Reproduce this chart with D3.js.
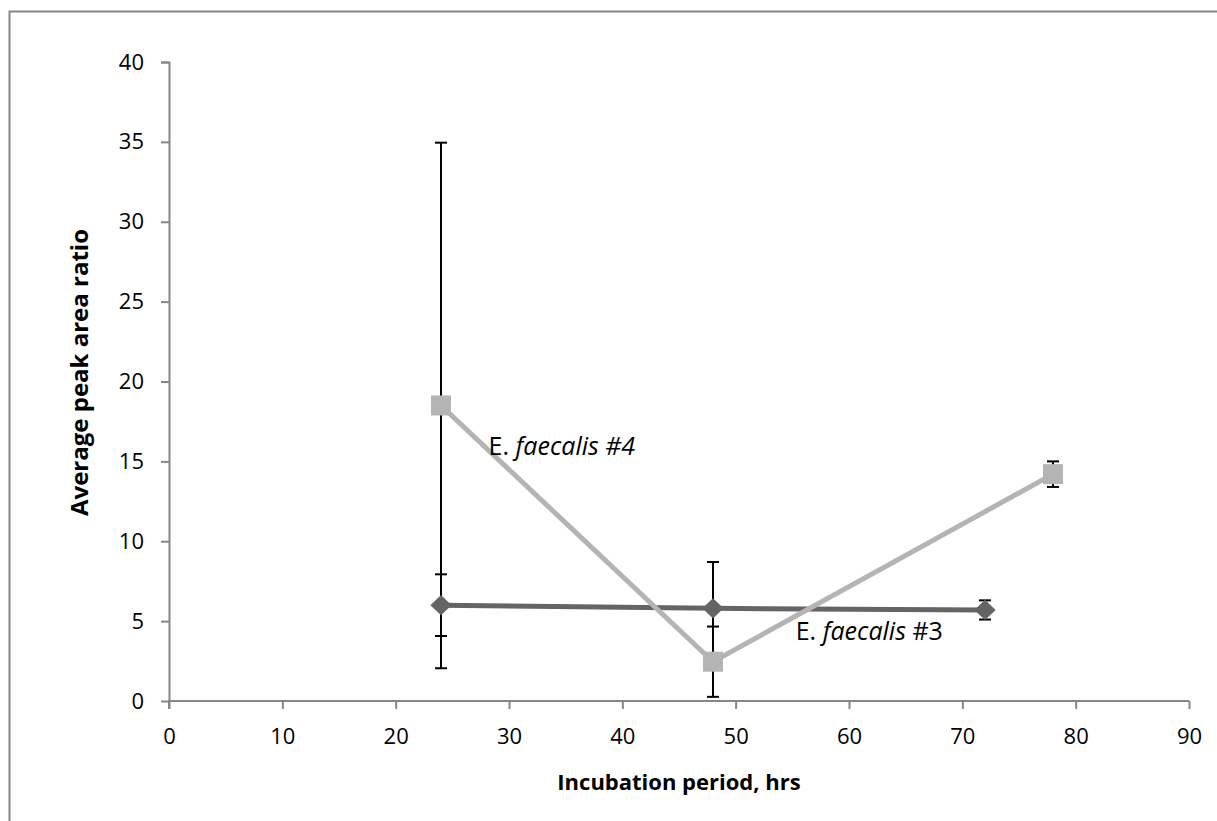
<!DOCTYPE html>
<html>
<head>
<meta charset="utf-8">
<script src="https://cdn.jsdelivr.net/npm/d3@7"></script>
<style>
  body { margin: 0; background: #fff; }
  text { font-family: "Open Sans", "DejaVu Sans", sans-serif; fill: #000; }
</style>
</head>
<body>
<div id="chart"></div>
<script>
// Data
const hours3 = [24, 48, 72];
const ratio3 = [6.0, 5.8, 5.7];
const err3 = [1.93, 2.9, 0.6];

const hours4 = [24, 48, 78];
const ratio4 = [18.5, 2.46, 14.2];
const err4 = [16.45, 2.2, 0.8];

const xTicks = [0, 10, 20, 30, 40, 50, 60, 70, 80, 90];
const yTicks = [0, 5, 10, 15, 20, 25, 30, 35, 40];

const W = 1217, H = 821;
const margin = { top: 62, right: 28, bottom: 120, left: 169 };
const width = W - margin.left - margin.right;
const height = H - margin.top - margin.bottom;  // 0..40 maps to 701..62

const svg = d3.select("#chart").append("svg")
    .attr("width", W)
    .attr("height", H);

// outer chart border (right / bottom run off the canvas)
svg.append("rect")
    .attr("x", 9.5).attr("y", 11.5)
    .attr("width", W).attr("height", H)
    .attr("fill", "none")
    .attr("stroke", "#868686")
    .attr("stroke-width", 2);

const g = svg.append("g")
    .attr("transform", "translate(" + margin.left + "," + margin.top + ")");

const x = d3.scaleLinear().domain([0, 90]).range([0, width]);
const y = d3.scaleLinear().domain([0, 40]).range([height, 0]);

// axes
const xAxis = d3.axisBottom(x).tickValues(xTicks).tickSize(8).tickPadding(19).tickFormat(d3.format("d"));
const yAxis = d3.axisLeft(y).tickValues(yTicks).tickSize(8).tickPadding(17).tickFormat(d3.format("d"));

const gx = g.append("g")
    .attr("transform", "translate(0," + height + ")")
    .call(xAxis);
const gy = g.append("g").call(yAxis);

[gx, gy].forEach(function (a) {
    a.select(".domain").attr("stroke", "#868686").attr("stroke-width", 2);
    a.selectAll(".tick line").attr("stroke", "#868686").attr("stroke-width", 2);
    a.selectAll(".tick text").style("font-size", "22px").attr("fill", "#000");
});
gy.select(".domain").attr("d", "M-8,0.5H0.5V" + height);
gx.select(".domain").attr("d", "M0,8V0H" + width);

// axis titles
g.append("text")
    .attr("x", x(45))
    .attr("y", height + 89)
    .attr("text-anchor", "middle")
    .style("font-size", "22px")
    .style("font-weight", "bold")
    .text("Incubation period, hrs");

g.append("text")
    .attr("transform", "translate(-81," + (y(20) - 9) + ") rotate(-90)")
    .attr("text-anchor", "middle")
    .style("font-size", "24px")
    .style("font-weight", "bold")
    .text("Average peak area ratio");

const line = d3.line()
    .x(function (d) { return x(d[0]); })
    .y(function (d) { return y(d[1]); });

const s3 = hours3.map(function (h, i) { return [h, ratio3[i], err3[i]]; });
const s4 = hours4.map(function (h, i) { return [h, ratio4[i], err4[i]]; });

function drawErrors(data) {
    const eb = g.append("g").attr("stroke", "#000").attr("stroke-width", 2);
    data.forEach(function (d) {
        const cx = x(d[0]);
        const hi = y(d[1] + d[2]);
        const lo = y(d[1] - d[2]);
        eb.append("line").attr("x1", cx).attr("x2", cx).attr("y1", hi).attr("y2", lo);
        eb.append("line").attr("x1", cx - 6).attr("x2", cx + 6).attr("y1", hi).attr("y2", hi);
        eb.append("line").attr("x1", cx - 6).attr("x2", cx + 6).attr("y1", lo).attr("y2", lo);
    });
}

// error bars first, lines on top
drawErrors(s3);
drawErrors(s4);

// series #3 : dark grey, diamonds
g.append("path")
    .datum(s3)
    .attr("d", line)
    .attr("fill", "none")
    .attr("stroke", "#646464")
    .attr("stroke-width", 5);

g.selectAll(".dia")
    .data(s3)
    .enter().append("path")
    .attr("class", "dia")
    .attr("d", d3.symbol().type(d3.symbolDiamond2).size(260))
    .attr("transform", function (d) { return "translate(" + x(d[0]) + "," + y(d[1]) + ") scale(1.05,1)"; })
    .attr("fill", "#646464");

// series #4 : light grey, squares
g.append("path")
    .datum(s4)
    .attr("d", line)
    .attr("fill", "none")
    .attr("stroke", "#b4b4b4")
    .attr("stroke-width", 5);

g.selectAll(".sq")
    .data(s4)
    .enter().append("rect")
    .attr("class", "sq")
    .attr("x", function (d) { return x(d[0]) - 10; })
    .attr("y", function (d) { return y(d[1]) - 10; })
    .attr("width", 20)
    .attr("height", 20)
    .attr("fill", "#b4b4b4");

// series labels
const lab4 = g.append("text")
    .attr("x", x(28.2))
    .attr("y", y(15.4))
    .style("font-size", "25px");
lab4.append("tspan").text("E. ");
lab4.append("tspan").style("font-style", "italic").text("faecalis #4");

const lab3 = g.append("text")
    .attr("x", x(55.3))
    .attr("y", y(3.8))
    .style("font-size", "25px");
lab3.append("tspan").text("E. ");
lab3.append("tspan").style("font-style", "italic").text("faecalis");
lab3.append("tspan").text(" #3");
</script>
</body>
</html>
